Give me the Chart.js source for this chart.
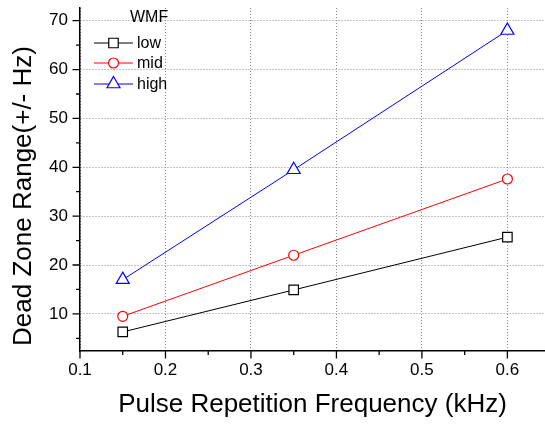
<!DOCTYPE html>
<html>
<head>
<meta charset="utf-8">
<script src="https://cdn.jsdelivr.net/npm/chart.js@4/dist/chart.umd.min.js"></script>
<style>
html,body{margin:0;padding:0;background:#fff;}
#wrap{width:545px;height:424px;position:relative;}
</style>
</head>
<body>
<div id="wrap"><canvas id="c" width="545" height="424"></canvas></div>
<script>
const frequencies = [0.15, 0.35, 0.6];
const lowValues = [6.3, 14.9, 25.7];
const midValues = [9.5, 22.0, 37.6];
const highValues = [17.0, 39.5, 68.0];
const seriesNames = ['low', 'mid', 'high'];
const legendTitle = 'WMF';
const xTicks = [0.1, 0.2, 0.3, 0.4, 0.5, 0.6];
const yTicks = [10, 20, 30, 40, 50, 60, 70];
const xMinorTicks = [0.15, 0.25, 0.35, 0.45, 0.55];
const yMinorTicks = [5, 15, 25, 35, 45, 55, 65];
const xTitle = 'Pulse Repetition Frequency (kHz)';
const yTitle = 'Dead Zone Range(+/- Hz)';

const FONT = 'Arial, "Liberation Sans", sans-serif';
const toPts = (vals) => frequencies.map((f, i) => ({x: f, y: vals[i]}));

const styles = [
  {color: '#000000', pointStyle: 'rect', radius: 6.7},
  {color: '#ff0000', pointStyle: 'circle', radius: 5},
  {color: '#0000ff', pointStyle: 'triangle', radius: 7.5}
];
const allValues = [lowValues, midValues, highValues];

const datasets = allValues.map((vals, i) => ({
  label: seriesNames[i],
  data: toPts(vals),
  borderColor: styles[i].color,
  borderWidth: 1,
  pointStyle: styles[i].pointStyle,
  pointRadius: styles[i].radius,
  pointHoverRadius: styles[i].radius,
  pointBorderColor: styles[i].color,
  pointBackgroundColor: '#ffffff',
  pointBorderWidth: 1.2,
  fill: false,
  tension: 0
}));

const tickPlugin = {
  id: 'tickMarks',
  afterDraw(chart) {
    const ctx = chart.ctx;
    const xs = chart.scales.x, ys = chart.scales.y;
    const area = chart.chartArea;
    ctx.save();
    ctx.strokeStyle = '#000';
    ctx.lineWidth = 1.3;
    const majorLen = 7.5, minorLen = 4;
    ctx.beginPath();
    xTicks.forEach(v => { const px = xs.getPixelForValue(v); ctx.moveTo(px, area.bottom); ctx.lineTo(px, area.bottom + majorLen); });
    xMinorTicks.forEach(v => { const px = xs.getPixelForValue(v); ctx.moveTo(px, area.bottom); ctx.lineTo(px, area.bottom + minorLen); });
    yTicks.forEach(v => { const py = ys.getPixelForValue(v); ctx.moveTo(area.left, py); ctx.lineTo(area.left - majorLen, py); });
    yMinorTicks.forEach(v => { const py = ys.getPixelForValue(v); ctx.moveTo(area.left, py); ctx.lineTo(area.left - minorLen, py); });
    ctx.stroke();
    // y axis title
    ctx.translate(24, 196);
    ctx.rotate(-Math.PI / 2);
    ctx.fillStyle = '#000';
    ctx.font = '26px ' + FONT;
    ctx.textAlign = 'center';
    ctx.textBaseline = 'middle';
    ctx.fillText(yTitle, 0, 0);
    ctx.restore();
  }
};

const legendPlugin = {
  id: 'innerLegend',
  afterDraw(chart) {
    const ctx = chart.ctx;
    const area = chart.chartArea;
    ctx.save();
    ctx.fillStyle = '#000';
    ctx.font = '16px ' + FONT;
    ctx.textBaseline = 'middle';
    ctx.textAlign = 'left';
    ctx.fillText(legendTitle, area.left + 50, area.top + 10);
    const rowY = [35, 55, 76];
    chart.data.datasets.forEach((ds, i) => {
      const y = area.top + rowY[i];
      const x0 = area.left + 14, x1 = area.left + 53;
      ctx.strokeStyle = ds.borderColor;
      ctx.lineWidth = 1;
      ctx.beginPath(); ctx.moveTo(x0, y); ctx.lineTo(x1, y); ctx.stroke();
      ctx.fillStyle = '#ffffff';
      ctx.strokeStyle = ds.pointBorderColor;
      ctx.lineWidth = 1.2;
      Chart.helpers.drawPoint(ctx, {pointStyle: ds.pointStyle, radius: ds.pointRadius, rotation: 0, borderWidth: 1.2}, (x0 + x1) / 2, y);
      ctx.fillStyle = '#000';
      ctx.fillText(ds.label, area.left + 57, y + 1);
    });
    ctx.restore();
  }
};

const gridOpts = {
  display: true,
  drawTicks: false,
  color: '#8a8a8a',
  lineWidth: 1
};

function zeroPadding(scale) {
  scale.paddingTop = 0; scale.paddingBottom = 0;
  scale.paddingLeft = 0; scale.paddingRight = 0;
}

new Chart(document.getElementById('c'), {
  type: 'line',
  data: {datasets},
  plugins: [tickPlugin, legendPlugin],
  options: {
    responsive: false,
    animation: false,
    layout: {autoPadding: false, padding: {top: 8, right: 0, left: 0, bottom: 0}},
    plugins: {legend: {display: false}, tooltip: {enabled: false}},
    scales: {
      x: {
        type: 'linear',
        min: 0.1,
        max: 0.644,
        afterBuildTicks(scale) { scale.ticks = xTicks.map(v => ({value: v})); },
        afterFit(scale) { scale.height = 73; zeroPadding(scale); },
        ticks: {
          callback: v => v.toFixed(1),
          color: '#000',
          font: {family: FONT, size: 17},
          padding: 9,
          maxRotation: 0,
          autoSkip: false
        },
        grid: Object.assign({}, gridOpts),
        border: {display: true, color: '#000', width: 1.5, dash: [1, 2]},
        title: {
          display: true,
          text: xTitle,
          color: '#000',
          font: {family: FONT, size: 26},
          padding: {top: 0, bottom: 4}
        }
      },
      y: {
        type: 'linear',
        min: 2.4,
        max: 72.6,
        afterBuildTicks(scale) { scale.ticks = yTicks.map(v => ({value: v})); },
        afterFit(scale) { scale.width = 80; zeroPadding(scale); },
        ticks: {
          callback: v => String(v),
          color: '#000',
          font: {family: FONT, size: 17},
          padding: 12,
          autoSkip: false
        },
        grid: Object.assign({}, gridOpts),
        border: {display: true, color: '#000', width: 1.5, dash: [1, 2]},
        title: {display: false}
      }
    }
  }
});
</script>
</body>
</html>
